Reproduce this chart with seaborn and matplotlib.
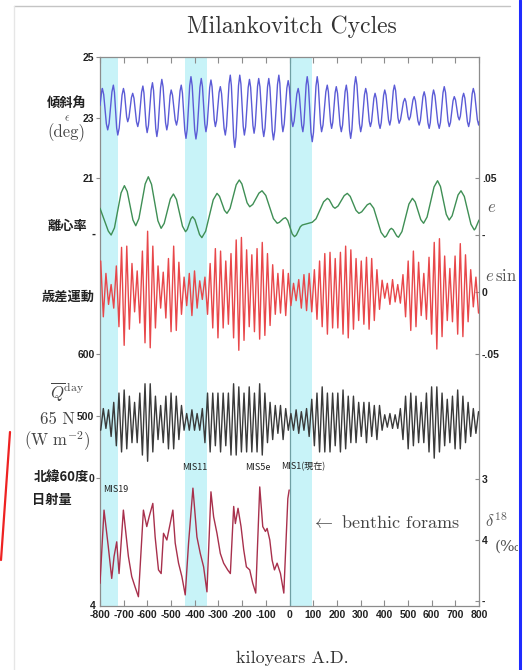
import matplotlib
matplotlib.use("Agg")
import matplotlib.pyplot as plt
import seaborn as sns
from matplotlib.lines import Line2D
from matplotlib.patches import Rectangle

sns.set_theme(style="white")
plt.rcParams['font.family'] = ['DejaVu Sans', 'Noto Sans CJK JP']
plt.rcParams['axes.unicode_minus'] = False
plt.rcParams['mathtext.fontset'] = 'cm'

# ---------------- data ----------------
xticks = [-800, -700, -600, -500, -400, -300, -200, -100, 0, 100, 200, 300, 400, 500, 600, 700, 800]
xtick_labels = [str(v) for v in xticks]

# obliquity (deg): extrema plus shoulder points
obl_t = [-800, -793, -790, -784.4, -773.1, -767.5, -761.5, -749.6, -743.6, -739.0,
         -729.7, -725, -719, -707, -701, -696.5, -687.5, -683, -677.8, -667.3,
         -662, -656.6, -645.9, -640.5, -635.1, -624.4, -619, -614.5, -605.5, -601,
         -595.4, -584.1, -578.5, -573.9, -564.6, -560, -554.8, -544.3, -539, -533.8,
         -523.3, -518, -513.4, -504.1, -499.5, -493.9, -482.6, -477, -472, -462,
         -457, -452, -442, -437, -431.8, -421.3, -416, -410.8, -400.3, -395,
         -389.4, -378.1, -372.5, -367.6, -357.7, -352.7, -347.4, -336.9, -331.6, -327.0,
         -317.7, -313, -307.8, -297.3, -292, -286.8, -276.3, -271, -265.8, -255.3,
         -250, -245.3, -235.8, -231, -225.8, -215.3, -210, -205.1, -195.4, -190.5,
         -185.1, -174.4, -169, -164.1, -154.4, -149.5, -144.6, -134.9, -130, -124.7,
         -114.0, -108.7, -103.4, -92.8, -87.5, -82.6, -72.7, -67.7, -62.0, -50.7,
         -45, -40.8, -32.3, -28, -22.4, -11.2, -5.6, -0.7, 9.1, 14,
         19.7, 31.0, 36.7, 41.6, 51.5, 56.4, 61.0, 70.2, 74.8, 80.1,
         90.7, 96, 101.3, 111.8, 117, 121.6, 130.8, 135.4, 141.4, 153.4,
         159.4, 164.0, 173.2, 177.8, 182.7, 192.6, 197.5, 202.8, 213.4, 218.7,
         224.0, 234.6, 239.9, 244.5, 253.6, 258.2, 263.5, 274.1, 279.4, 284.7,
         295.2, 300.5, 305.8, 316.4, 321.7, 326.7, 336.6, 341.5, 346.4, 356.3,
         361.2, 366.5, 377.1, 382.4, 387.3, 397.2, 402.1, 407.4, 418.0, 423.3,
         428.2, 438.1, 443, 448.0, 457.9, 462.8, 468.8, 480.8, 486.8, 491.4,
         500.5, 505.1, 510.4, 521.0, 526.3, 531.6, 542.1, 547.4, 552.7, 563.3,
         568.6, 573.9, 584.5, 589.8, 594.4, 603.5, 608.1, 614.1, 626.1, 632.1,
         637.4, 648.0, 653.3, 658.6, 669.1, 674.4, 679.7, 690.3, 695.6, 700.9,
         711.5, 716.8, 721.4, 730.5, 735.1, 740.4, 751.0, 756.3, 761.2, 771.1,
         776, 781.7, 793.0, 798.6, 800]
obl_v = [23.40, 23.86, 23.96, 23.76, 22.79, 22.59, 22.81, 23.85, 24.07, 23.83,
         22.66, 22.42, 22.65, 23.74, 23.96, 23.80, 23.02, 22.86, 23.00, 23.66,
         23.80, 23.64, 22.86, 22.70, 22.90, 23.84, 24.04, 23.81, 22.73, 22.50,
         22.74, 23.91, 24.15, 23.89, 22.63, 22.37, 22.65, 23.98, 24.26, 24.02,
         22.83, 22.59, 22.78, 23.72, 23.91, 23.74, 22.92, 22.75, 22.94, 23.88,
         24.07, 23.81, 22.57, 22.31, 22.61, 24.05, 24.35, 24.05, 22.59, 22.29,
         22.58, 24.00, 24.29, 24.03, 22.79, 22.53, 22.78, 23.99, 24.24, 24.02,
         22.93, 22.70, 22.89, 23.83, 24.02, 23.79, 22.65, 22.42, 22.71, 24.11,
         24.40, 24.05, 22.36, 22.01, 22.36, 24.05, 24.40, 24.11, 22.71, 22.42,
         22.69, 23.99, 24.26, 24.00, 22.74, 22.48, 22.74, 24.03, 24.29, 24.01,
         22.65, 22.37, 22.65, 24.01, 24.29, 23.99, 22.56, 22.26, 22.57, 24.09,
         24.40, 24.13, 22.80, 22.53, 22.78, 23.97, 24.22, 24.00, 22.92, 22.70,
         22.88, 23.78, 23.96, 23.75, 22.74, 22.53, 22.80, 24.08, 24.35, 24.04,
         22.51, 22.20, 22.51, 24.04, 24.35, 24.08, 22.80, 22.53, 22.75, 23.85,
         24.07, 23.86, 22.85, 22.64, 22.84, 23.82, 24.02, 23.80, 22.75, 22.53,
         22.75, 23.85, 24.07, 23.81, 22.57, 22.31, 22.61, 24.05, 24.35, 24.08,
         22.80, 22.53, 22.74, 23.75, 23.96, 23.78, 22.88, 22.70, 22.86, 23.64,
         23.80, 23.63, 22.81, 22.64, 22.83, 23.73, 23.91, 23.74, 22.92, 22.75,
         22.94, 23.88, 24.07, 23.89, 22.99, 22.81, 22.93, 23.51, 23.63, 23.53,
         23.02, 22.92, 23.03, 23.58, 23.69, 23.55, 22.89, 22.75, 22.91, 23.69,
         23.85, 23.67, 22.82, 22.64, 22.83, 23.72, 23.91, 23.72, 22.83, 22.64,
         22.84, 23.82, 24.02, 23.83, 22.89, 22.70, 22.84, 23.55, 23.69, 23.58,
         23.03, 22.92, 23.05, 23.67, 23.80, 23.64, 22.86, 22.70, 22.88, 23.78,
         23.96, 23.78, 22.93, 22.75, 22.85]

# eccentricity (extrema plus shoulder points)
ecc_t = [-800, -765, -753, -739, -711, -697, -685, -661, -649, -635.75,
         -609.25, -596, -582.5, -555.5, -542, -529, -503, -490, -477.25, -451.75,
         -439, -431.5, -416.5, -409, -399.25, -379.75, -370, -354, -322, -306,
         -295.5, -274.5, -264, -251, -225, -212, -201, -179, -168, -155,
         -129, -116, -100, -68, -52, -43.25, -25.75, -17, -7.5, 11.5,
         21, 29.25, 45.75, 54, 96, 112, 144, 160, 168, 184,
         192, 205, 231, 244, 256.25, 280.75, 293, 304.75, 328.25, 340,
         355.5, 386.5, 402, 409, 423, 430, 437.5, 452.5, 460, 474.75,
         504.25, 519, 530.75, 554.25, 566, 580.75, 610.25, 625, 637.25, 661.75,
         674, 686.5, 711.5, 724, 738, 766, 780, 785, 800]
ecc_v = [0.0256, 0.0072, 0.0040, 0.0098, 0.0380, 0.0438, 0.0391, 0.0162, 0.0115, 0.0173,
         0.0452, 0.0510, 0.0449, 0.0155, 0.0094, 0.0134, 0.0331, 0.0371, 0.0327, 0.0111,
         0.0067, 0.0085, 0.0170, 0.0188, 0.0163, 0.0044, 0.0019, 0.0071, 0.0324, 0.0376,
         0.0352, 0.0239, 0.0215, 0.0254, 0.0445, 0.0484, 0.0452, 0.0300, 0.0268, 0.0287,
         0.0378, 0.0397, 0.0359, 0.0173, 0.0135, 0.0142, 0.0173, 0.0180, 0.0158, 0.0049,
         0.0027, 0.0041, 0.0107, 0.0121, 0.0143, 0.0171, 0.0308, 0.0336, 0.0324, 0.0268,
         0.0256, 0.0274, 0.0358, 0.0376, 0.0352, 0.0239, 0.0215, 0.0227, 0.0284, 0.0296,
         0.0256, 0.0062, 0.0022, 0.0033, 0.0083, 0.0094, 0.0083, 0.0033, 0.0022, 0.0068,
         0.0290, 0.0336, 0.0307, 0.0164, 0.0135, 0.0185, 0.0428, 0.0478, 0.0432, 0.0207,
         0.0161, 0.0195, 0.0363, 0.0397, 0.0351, 0.0127, 0.0081, 0.0093, 0.0161]

# precession-band extrema times (kyr) shared by e*sin(w) and Q65N
prec_t = [-797, -786, -775, -764, -753, -742, -731, -720, -709, -698, -687, -676, -665, -654, -643, -632,
          -621, -610, -599, -588, -577, -566, -555, -544, -533, -522, -511, -500, -489, -478, -467, -456,
          -445, -434, -423, -412, -401, -390, -379, -368, -357, -346, -335, -324, -313, -302, -291, -280,
          -269, -258, -247, -236, -225, -214, -203, -192, -181, -170, -159, -148, -137, -126, -115, -104,
          -93, -82, -71, -60, -49, -38, -27, -16, -5, 6, 17, 28, 39, 50, 61, 72, 83, 94, 105, 116, 127,
          138, 149, 160, 171, 182, 193, 204, 215, 226, 237, 248, 259, 270, 281, 292, 303, 314, 325, 336,
          347, 358, 369, 380, 391, 402, 413, 424, 435, 446, 457, 468, 479, 490, 501, 512, 523, 534, 545,
          556, 567, 578, 589, 600, 611, 622, 633, 644, 655, 666, 677, 688, 699, 710, 721, 732, 743, 754,
          765, 776, 787, 798]
prec_v = [0.025, -0.020, 0.015, -0.010, 0.006, -0.013, 0.021, -0.028, 0.036, -0.043, 0.037, -0.030, 0.023,
          -0.016, 0.017, -0.025, 0.033, -0.041, 0.049, -0.045, 0.037, -0.029, 0.021, -0.013, 0.016, -0.021,
          0.027, -0.032, 0.037, -0.031, 0.024, -0.018, 0.012, -0.011, 0.015, -0.019, 0.017, -0.013, 0.009,
          -0.006, 0.012, -0.018, 0.023, -0.029, 0.035, -0.037, 0.033, -0.029, 0.025, -0.026, 0.031, -0.037,
          0.042, -0.047, 0.044, -0.039, 0.034, -0.028, 0.030, -0.032, 0.035, -0.038, 0.040, -0.035, 0.031,
          -0.027, 0.022, -0.018, 0.015, -0.017, 0.018, -0.019, 0.015, -0.011, 0.007, -0.007, 0.010, -0.013,
          0.014, -0.015, 0.015, -0.016, 0.018, -0.022, 0.025, -0.028, 0.031, -0.034, 0.032, -0.029, 0.027,
          -0.029, 0.032, -0.034, 0.037, -0.037, 0.034, -0.030, 0.027, -0.023, 0.025, -0.026, 0.028, -0.030,
          0.027, -0.023, 0.018, -0.014, 0.0095, -0.005, 0.007, -0.010, 0.010, -0.008, 0.006, -0.009, 0.014,
          -0.020, 0.025, -0.031, 0.033, -0.028, 0.024, -0.019, 0.015, -0.022, 0.028, -0.034, 0.040, -0.046,
          0.043, -0.036, 0.029, -0.023, 0.019, -0.024, 0.029, -0.034, 0.039, -0.036, 0.030, -0.024, 0.018,
          -0.012, 0.012, -0.017]
q_v = [477, 512, 480, 510, 467, 522, 452, 537, 442, 542, 447, 532, 457, 522, 457, 537, 437, 552, 427, 552,
       442, 532, 462, 517, 457, 532, 447, 537, 447, 532, 462, 517, 477, 504, 477, 510, 477, 504, 477, 512,
       457, 537, 442, 537, 452, 537, 442, 537, 452, 537, 437, 552, 437, 547, 442, 537, 442, 547, 442, 537,
       442, 552, 437, 537, 457, 522, 462, 517, 472, 517, 462, 512, 477, 504, 477, 510, 472, 507, 477, 512,
       467, 527, 452, 537, 442, 547, 442, 537, 442, 537, 452, 537, 442, 542, 447, 532, 457, 532, 457, 522,
       467, 522, 457, 522, 467, 517, 462, 517, 477, 502, 482, 504, 480, 502, 480, 512, 462, 532, 447, 537,
       452, 532, 457, 522, 457, 537, 442, 547, 432, 547, 442, 537, 452, 527, 457, 532, 447, 542, 447, 532,
       457, 522, 467, 512, 472, 507]

# benthic d18O (per mil)
d18_t = [-800, -783, -765, -750.5, -740.7, -729.4, -719.6, -701.3, -680.1, -666, -651.9, -637.8, -616.7,
         -602.5, -592.6, -577, -567.2, -553.1, -541.8, -531.9, -517.8, -503.7, -492.4, -482.5, -468.4,
         -454.3, -440.2, -426.1, -407.7, -390.8, -376.7, -362.6, -348.5, -331.6, -320.3, -306.2, -292.1,
         -278, -261, -249.7, -235.6, -228.6, -217.3, -204.6, -193.3, -182, -167.9, -155.2, -142.5, -125.6,
         -112.9, -101.6, -94.5, -83.2, -73.4, -63.5, -52.3, -38.1, -24, -7, -1.4]
d18_v = [4.71, 3.51, 4.11, 4.63, 4.27, 4.03, 4.55, 3.51, 4.27, 4.60, 4.77, 4.93, 3.51, 3.78, 3.62, 3.40,
         3.95, 4.49, 4.55, 3.89, 4.00, 3.73, 3.51, 4.05, 4.38, 4.60, 4.90, 4.05, 3.15, 3.95, 4.22, 4.44,
         4.85, 3.21, 3.62, 3.89, 4.22, 4.38, 4.49, 4.55, 3.45, 3.73, 3.48, 3.78, 4.16, 4.44, 4.49, 4.71,
         4.87, 3.13, 3.78, 3.86, 3.81, 4.00, 4.33, 4.49, 4.38, 4.55, 4.87, 3.32, 3.18]

bands = [(-800, -725), (-443, -350), (0, 97)]
mis_labels = ["MIS19", "MIS11", "MIS5e", "MIS1(現在)"]

# ---------------- layout ----------------
W, H = 525, 670
fig = plt.figure(figsize=(W / 100, H / 100), dpi=100)
fig.patch.set_facecolor("white")
L, R, T, B = 100, 479, 57, 606
rect = [L / W, 1 - B / H, (R - L) / W, (B - T) / H]

def fx(px):
    return px / W

def fy(py):
    return 1 - py / H

SP = "#8c8c8c"
TICKFONT = dict(fontsize=7.5, fontweight="bold", color="#222", family="Liberation Sans")
ax = fig.add_axes(rect)
ax.set_xlim(-800, 800)
ax.set_ylim(0, 1)
ax.set_yticks([])
for s in ax.spines.values():
    s.set_color(SP)
    s.set_linewidth(0.9)
ax.set_xticks(xticks, xtick_labels, **TICKFONT)
ax.tick_params(axis="x", direction="in", length=4, width=0.8, color=SP, top=True, bottom=True, pad=3)
for a0, a1 in bands:
    ax.axvspan(a0, a1, color="#c8f3f8", lw=0, zorder=0)
ax.axvline(0, color="#6f9fa3", lw=0.9, zorder=1)


def ylim_from(v1, p1, v2, p2):
    s = (v2 - v1) / (p2 - p1)
    return v1 + (B - p1) * s, v1 + (T - p1) * s


def overlay(lims):
    a = fig.add_axes(rect, sharex=ax)
    a.patch.set_visible(False)
    for s in a.spines.values():
        s.set_visible(False)
    a.set_ylim(*lims)
    a.tick_params(axis="x", bottom=False, top=False, labelbottom=False, labeltop=False)
    return a


def style_y(a, side, ticks, labels):
    a.set_yticks(ticks, labels, **TICKFONT)
    if side == "left":
        a.yaxis.tick_left()
        a.tick_params(axis="y", direction="out", length=3, width=0.8, color=SP, pad=1)
    else:
        a.yaxis.tick_right()
        a.tick_params(axis="y", direction="in", length=3, width=0.8, color=SP, pad=2)
    a.set_xlabel("")
    a.set_ylabel("")


# obliquity
a1 = overlay(ylim_from(25, 57, 21, 178))
sns.lineplot(x=obl_t, y=obl_v, ax=a1, color="#5b5bd6", lw=1.0, estimator=None, sort=False)
style_y(a1, "left", [21, 23, 25], ["21", "23", "25"])

# eccentricity
a2 = overlay(ylim_from(0.05, 178, 0.0, 240))
sns.lineplot(x=ecc_t, y=ecc_v, ax=a2, color="#3f8f55", lw=1.0, estimator=None, sort=False)
style_y(a2, "right", [0.004, 0.05], ["-", ".05"])

# precession
a3 = overlay(ylim_from(0.0, 292, -0.05, 354))
sns.lineplot(x=prec_t, y=prec_v, ax=a3, color="#e8474a", lw=1.0, estimator=None, sort=False)
style_y(a3, "right", [-0.05, 0], ["-.05", "0"])

# insolation 65N
a4 = overlay(ylim_from(500, 416, 600, 354))
sns.lineplot(x=prec_t, y=q_v, ax=a4, color="#3a3a3a", lw=1.0, estimator=None, sort=False)
style_y(a4, "left", [400, 500, 600], ["0", "500", "600"])

# benthic d18O (inverted)
a5 = overlay(ylim_from(3, 479, 4, 540))
sns.lineplot(x=d18_t, y=d18_v, ax=a5, color="#a8304c", lw=1.0, estimator=None, sort=False)
style_y(a5, "right", [3, 4, 5], ["3", "4", "-"])

for a in (a1, a2, a3, a4, a5):
    a.set_xlim(-800, 800)

# ---------------- texts ----------------
CJK = ["Noto Sans CJK JP", "DejaVu Sans"]
TXT = "#222"
fig.text(fx(292), fy(27), "Milankovitch Cycles", family="cmr10", fontsize=17, ha="center", va="center", color="#333")
fig.text(fx(67), fy(103), "傾斜角", family=CJK, fontweight="bold", fontsize=9.5, ha="center", va="center", color=TXT)
fig.text(fx(67), fy(118), r"$\epsilon$", fontsize=8, ha="center", va="center", color="#444")
fig.text(fx(66), fy(133), "(deg)", family="cmr10", fontsize=12, ha="center", va="center", color="#444")
fig.text(fx(67), fy(226), "離心率", family=CJK, fontweight="bold", fontsize=9.5, ha="center", va="center", color=TXT)
fig.text(fx(93), fy(235), "-", fontsize=7, fontweight="bold", ha="center", va="center", color=TXT)
fig.text(fx(68), fy(297), "歳差運動", family=CJK, fontweight="bold", fontsize=9.5, ha="center", va="center", color=TXT)
fig.text(fx(67), fy(392), r"$\overline{Q}^{\mathrm{day}}$", fontsize=12, ha="center", va="center", color="#444")
fig.text(fx(57), fy(419), "65 N", family="cmr10", fontsize=12, ha="center", va="center", color="#444")
fig.text(fx(57), fy(441), r"$(\mathrm{W\ m}^{-2})$", fontsize=12, ha="center", va="center", color="#444")
fig.text(fx(89), fy(477), "北緯60度", family=CJK, fontweight="bold", fontsize=9.5, ha="right", va="center", color=TXT)
fig.text(fx(52), fy(500), "日射量", family=CJK, fontweight="bold", fontsize=9.5, ha="center", va="center", color=TXT)
fig.text(fx(93), fy(606), "4", fontsize=7.5, fontweight="bold", family="Liberation Sans", ha="center", va="center", color=TXT)

fig.text(fx(487), fy(207), r"$e$", fontsize=12, ha="left", va="center", color="#555")
fig.text(fx(485), fy(276), r"$e\,\sin$", fontsize=12, ha="left", va="center", color="#555")
fig.text(fx(485), fy(522), r"$\delta^{18}$", fontsize=12, ha="left", va="center", color="#555")
fig.text(fx(495), fy(547), "(‰", family="DejaVu Serif", fontsize=11, ha="left", va="center", color="#555")

mis_pos = [(103, 490), (182, 467), (245, 467), (281, 467)]
for lab, (px, py) in zip(mis_labels, mis_pos):
    fig.text(fx(px), fy(py), lab, family=CJK, fontsize=6.5, ha="left", va="center", color=TXT)

fig.text(fx(311), fy(522), r"$\leftarrow$ benthic forams", family="cmr10", fontsize=13, ha="left", va="center", color="#444")
fig.text(fx(292), fy(658), "kiloyears A.D.", family="cmr10", fontsize=13, ha="center", va="center", color="#333")

# ---------------- slide-screenshot frame ----------------
fig.add_artist(Rectangle((fx(518), 0), 1 - fx(518), 1, transform=fig.transFigure, fc="white", ec="none", zorder=50))
fig.add_artist(Line2D([fx(520), fx(520)], [0, 1], transform=fig.transFigure, color="#1f2cff", lw=2.2, zorder=51))
fig.add_artist(Line2D([fx(14), fx(510)], [fy(6), fy(6)], transform=fig.transFigure, color="#c4c4c4", lw=1, zorder=51))
fig.add_artist(Line2D([fx(14), fx(14)], [fy(6), fy(670)], transform=fig.transFigure, color="#e6e6e6", lw=1, zorder=51))
fig.add_artist(Line2D([fx(1), fx(10)], [fy(560), fy(432)], transform=fig.transFigure, color="#ee2222", lw=1.6, zorder=51))

fig.savefig("out.png", dpi=100)
